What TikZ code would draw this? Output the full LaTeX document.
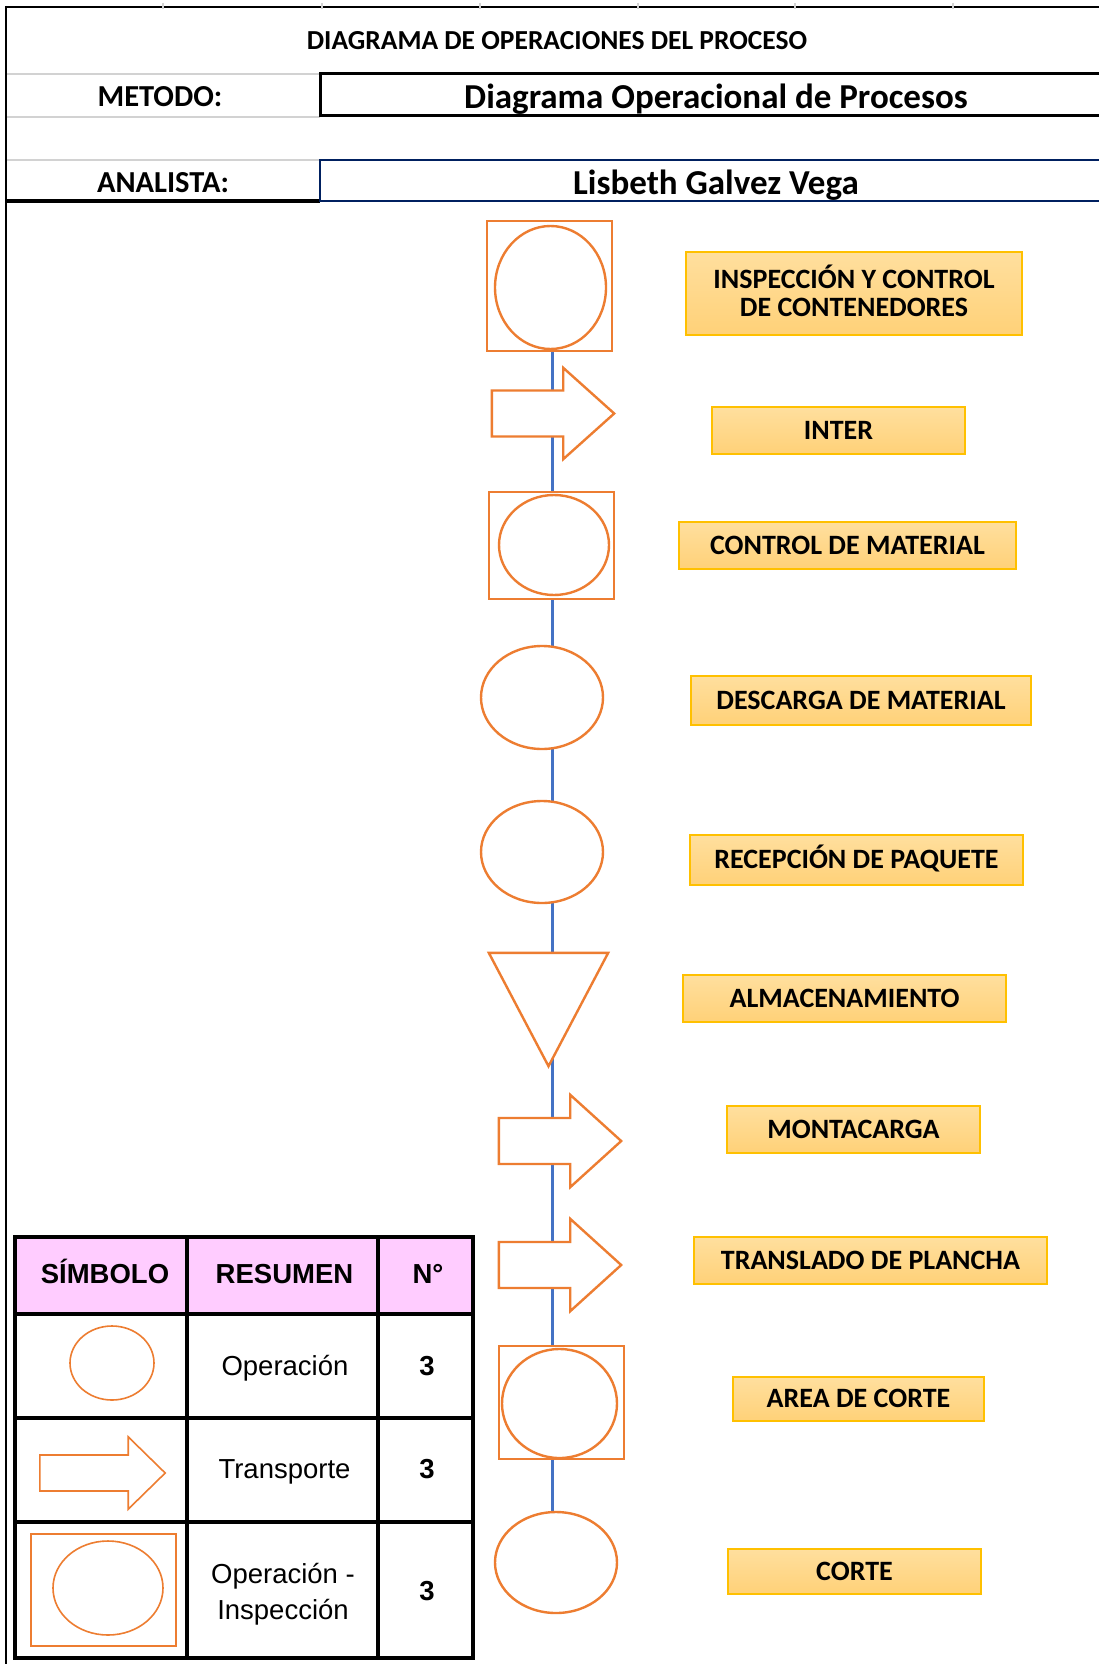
\documentclass[tikz,border=0pt]{standalone}
\usepackage{fontspec}
\setmainfont{Carlito}
\newfontfamily\tablefont{Liberation Sans}
\usetikzlibrary{shapes.geometric,backgrounds}

\definecolor{symorange}{RGB}{237,125,49}
\definecolor{flowblue}{RGB}{68,114,196}
\definecolor{labelgold}{RGB}{255,192,0}
\definecolor{labeltop}{RGB}{255,223,158}
\definecolor{labelbot}{RGB}{255,209,120}
\definecolor{navyline}{RGB}{0,32,96}
\definecolor{gridgray}{RGB}{210,210,210}
\definecolor{headpink}{RGB}{255,204,255}

% block arrow drawn inside a named frame node:
% #1 frame node, #2 half height of the shaft, #3 length of the head, #4 style
\newcommand\blockarrow[4]{%
  \draw[#4] ([yshift=#2]#1.west) -- ([xshift=-#3,yshift=#2]#1.east)
    -- ([xshift=-#3]#1.north east) -- (#1.east) -- ([xshift=-#3]#1.south east)
    -- ([xshift=-#3,yshift=-#2]#1.east) -- ([yshift=-#2]#1.west) -- cycle;}

\newcommand\lblfont{\bfseries\fontsize{28}{28.5}\selectfont}

\begin{document}
\begin{tikzpicture}[x=1pt,y=-1pt,
  frame/.style={rectangle,inner sep=0pt,draw=none},
  sym/.style={draw=symorange,line width=2.4pt,fill=white},
  tsym/.style={draw=symorange,line width=1.6pt,fill=white},
  oval/.style={ellipse,inner sep=0pt,sym},
  opbox/.style={rectangle,inner sep=0pt,sym},
  flow/.style={draw=flowblue,line width=3pt},
  lbl/.style={rectangle,inner sep=0pt,draw=labelgold,line width=1.5pt,
    top color=labeltop,bottom color=labelbot,font=\lblfont,
    text height=17.5pt,text depth=0pt,align=center},
  head/.style={font=\bfseries\fontsize{27.5}{30}\selectfont,anchor=base},
  field/.style={font=\bfseries\fontsize{30.5}{32}\selectfont,anchor=base},
  value/.style={font=\bfseries\fontsize{35}{36}\selectfont,anchor=base},
  thead/.style={font=\tablefont\bfseries\fontsize{27.5}{30}\selectfont,anchor=base},
  tcell/.style={font=\tablefont\fontsize{27.5}{36}\selectfont,anchor=base,align=center},
  tnum/.style={font=\tablefont\bfseries\fontsize{27.5}{30}\selectfont,anchor=base},
  grid/.style={line width=3.5pt,black}]

\useasboundingbox (0,0) rectangle (1099,1664);

% ---------- header block ----------
\draw[line width=2pt] (6,7) -- (1099,7);
\draw[line width=2pt] (6,6) -- (6,1664);
\foreach \gx in {163,322,480,638,795,953}
  \draw[gridgray,line width=1.5pt] (\gx,3) -- (\gx,9);
\foreach \gy in {74,117,160}
  \draw[gridgray,line width=2pt] (7,\gy) -- (320,\gy);
\draw[line width=3pt] (6,201) -- (320,201);
\draw[line width=3pt] (1110,74) -- (320,74) -- (320,116) -- (1110,116);
\draw[navyline,line width=2.6pt] (1110,160) -- (320,160) -- (320,201) -- (1110,201);

\node[head] (title) at (557,50) {DIAGRAMA DE OPERACIONES DEL PROCESO};
\node[field] (metodo) at (160,107) {METODO:};
\node[value] (metodov) at (716,108.5) {Diagrama Operacional de Procesos};
\node[field] (analista) at (163,193) {ANALISTA:};
\node[value] (analistav) at (716,195) {Lisbeth Galvez Vega};

% ---------- process column ----------
\coordinate (sp) at (552,0);

% 1 operation-inspection
\node[opbox,minimum width=125pt,minimum height=130pt] (b1) at (549.5,286) {};
\node[oval,minimum width=111pt,minimum height=123pt] (b1o) at (550.5,287.5) {};
% 2 transport
\node[frame,minimum width=122pt,minimum height=91pt] (a2) at (553,413.5) {};
\blockarrow{a2}{23pt}{51pt}{sym}
% 3 operation-inspection
\node[opbox,minimum width=125pt,minimum height=107pt] (b3) at (551.5,545.5) {};
\node[oval,minimum width=110pt,minimum height=100pt] (b3o) at (554,545) {};
% 4 operation
\node[oval,minimum width=122pt,minimum height=103pt] (o4) at (542,697.5) {};
% 5 operation
\node[oval,minimum width=122pt,minimum height=102pt] (o5) at (542,852) {};
% 6 storage
\node[frame,minimum width=119pt,minimum height=113pt] (t6) at (548.5,1009.5) {};
\draw[sym,line join=miter] (t6.north west) -- (t6.north east) -- (t6.south) -- cycle;
% 7 transport
\node[frame,minimum width=122pt,minimum height=92pt] (a7) at (560,1141) {};
\blockarrow{a7}{23pt}{51pt}{sym}
% 8 transport
\node[frame,minimum width=122pt,minimum height=92pt] (a8) at (560,1265) {};
\blockarrow{a8}{23pt}{51pt}{sym}
% 9 operation-inspection
\node[opbox,minimum width=125pt,minimum height=113pt] (b9) at (561.5,1402.5) {};
\node[oval,minimum width=115pt,minimum height=109pt] (b9o) at (559.5,1403.5) {};
% 10 operation
\node[oval,minimum width=122pt,minimum height=101pt] (o10) at (556,1562.5) {};

% white page under everything, then the flow line behind the symbols
\begin{pgfonlayer}{background}
  \fill[white] (0,0) rectangle (1099,1664);
  \foreach \p/\q in {b1/a2,a2/b3,b3/o4,o4/o5,o5/t6,t6/a7,a7/a8,a8/b9,b9/o10}
    \draw[flow] (\p -| sp) -- (\q -| sp);
\end{pgfonlayer}

% ---------- step labels ----------
\node[lbl,minimum width=336pt,minimum height=83pt,text height=46pt,text depth=0pt]
  (l1) at (854,293.5) {INSPECCIÓN Y CONTROL\\DE CONTENEDORES};
\node[lbl,minimum width=253pt,minimum height=47pt] (l2) at (838.5,430.5) {INTER};
\node[lbl,minimum width=337pt,minimum height=47pt] (l3) at (847.5,545.5) {CONTROL DE MATERIAL};
\node[lbl,minimum width=340pt,minimum height=49pt] (l4) at (861,700.5) {DESCARGA DE MATERIAL};
\node[lbl,minimum width=333pt,minimum height=50pt] (l5) at (856.5,860) {RECEPCIÓN DE PAQUETE};
\node[lbl,minimum width=323pt,minimum height=47pt] (l6) at (844.5,998.5) {ALMACENAMIENTO};
\node[lbl,minimum width=253pt,minimum height=47pt] (l7) at (853.5,1129.5) {MONTACARGA};
\node[lbl,minimum width=353pt,minimum height=47pt] (l8) at (870.5,1260.5) {TRANSLADO DE PLANCHA};
\node[lbl,minimum width=251pt,minimum height=44pt] (l9) at (858.5,1399) {AREA DE CORTE};
\node[lbl,minimum width=253pt,minimum height=45pt] (l10) at (854.5,1571.5) {CORTE};

% ---------- summary table ----------
\fill[headpink] (15,1237) rectangle (473,1314);
\draw[grid] (15,1237) rectangle (473,1658);
\foreach \cx in {187,378} \draw[grid] (\cx,1237) -- (\cx,1658);
\foreach \ry in {1314,1418,1522} \draw[grid] (15,\ry) -- (473,\ry);

\node[thead] (hsym) at (105,1283) {SÍMBOLO};
\node[thead] (hres) at (284.5,1283) {RESUMEN};
\node[thead] (hnum) at (428,1283) {N°};

\node[ellipse,inner sep=0pt,tsym,minimum width=84pt,minimum height=74pt] (s1) at (112,1363) {};
\node[tcell] (r1) at (285,1375) {Operación};
\node[tnum] (n1) at (427,1375) {3};

\node[frame,minimum width=125pt,minimum height=72pt] (s2) at (102.5,1473) {};
\blockarrow{s2}{18pt}{37pt}{tsym}
\node[tcell] (r2) at (284.5,1478) {Transporte};
\node[tnum] (n2) at (427,1478) {3};

\node[rectangle,inner sep=0pt,tsym,minimum width=145pt,minimum height=112pt] (s3) at (103.5,1590) {};
\node[ellipse,inner sep=0pt,tsym,minimum width=110pt,minimum height=94pt] (s3o) at (108,1588) {};
\node[tcell,anchor=center] (r3) at (283,1594.5) {Operación -\\Inspección};
\node[tnum] (n3) at (427,1600) {3};

\end{tikzpicture}
\end{document}
